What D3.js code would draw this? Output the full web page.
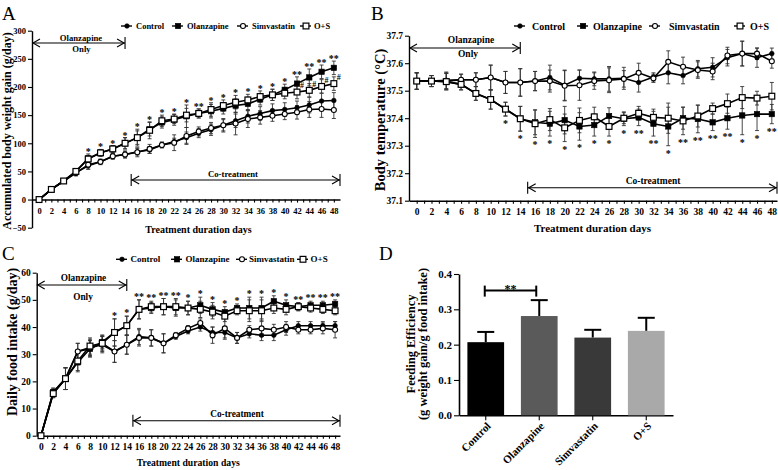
<!DOCTYPE html>
<html><head><meta charset="utf-8">
<script src="https://cdn.jsdelivr.net/npm/d3@7"></script>
<style>
html,body{margin:0;padding:0;background:#fff;}
svg{display:block;}
text{font-family:'Liberation Serif','Times New Roman',serif;font-weight:bold;fill:#000;}
</style></head><body>
<script>
// ---------------- DATA ----------------
const days = [0,2,4,6,8,10,12,14,16,18,20,22,24,26,28,30,32,34,36,38,40,42,44,46,48];
const seriesNames = ["Control","Olanzapine","Simvastatin","O+S"];

// Panel A: accumulated body weight gain
const weightControl     = [0,18,33,48,60,67,77,80,85,88,97,103,110,118,124,132,140,148,153,158,160,163,168,175,176];
const weightOlanzapine  = [0,18,33,50,73,83,90,100,110,125,137,142,148,153,157,162,167,170,178,186,195,206,217,227,234];
const weightSimvastatin = [0,18,33,47,62,67,77,80,84,90,97,101,113,121,127,132,135,143,146,149,152,155,160,161,159];
const weightOS          = [0,18,33,50,72,83,90,100,110,123,140,143,150,153,160,167,173,177,183,186,189,191,194,201,206];
const weightControlErr     = [0,2,3,5,6,4,5,6,6,6,5,6,10,8,10,12,12,12,12,12,12,12,14,14,14];
const weightOlanzapineErr  = [0,2,3,5,8,6,6,10,12,12,10,10,20,8,12,10,12,12,10,10,10,12,15,12,12];
const weightSimvastatinErr = [0,2,3,5,8,5,5,6,8,8,5,14,15,8,10,10,20,15,12,10,10,12,14,15,15];
const weightOSErr          = [0,2,3,5,6,6,6,10,15,15,10,8,12,8,12,10,12,10,10,10,10,12,12,12,12];
const weightStars = ["","","","","*","*","*","*","*","*","*","*","*","**","*","*","*","*","*","*","*","**","**","**","**"];
const weightHash  = ["","","","","","","","","","","","","","","","","","","","","","#","#","#","#"];

// Panel B: body temperature
const tempControl     = [37.535,37.535,37.538,37.54,37.54,37.548,37.53,37.53,37.535,37.548,37.52,37.545,37.543,37.543,37.545,37.53,37.55,37.565,37.555,37.58,37.585,37.62,37.635,37.62,37.635];
const tempOlanzapine  = [37.535,37.535,37.533,37.523,37.49,37.468,37.433,37.398,37.385,37.38,37.393,37.37,37.375,37.408,37.398,37.403,37.38,37.37,37.40,37.397,37.385,37.40,37.41,37.415,37.415];
const tempSimvastatin = [37.535,37.535,37.535,37.54,37.54,37.548,37.53,37.53,37.535,37.535,37.518,37.52,37.535,37.538,37.543,37.565,37.545,37.605,37.587,37.575,37.57,37.628,37.635,37.635,37.607];
const tempOS          = [37.535,37.535,37.533,37.523,37.49,37.468,37.433,37.398,37.38,37.395,37.365,37.392,37.405,37.37,37.40,37.418,37.403,37.40,37.39,37.408,37.435,37.453,37.475,37.473,37.48];
const tempControlErr     = [0.03,0.02,0.03,0.02,0.025,0.045,0.04,0.05,0.035,0.045,0.055,0.03,0.025,0.045,0.04,0.035,0.015,0.04,0.03,0.03,0.035,0.03,0.045,0.035,0.02];
const tempOlanzapineErr  = [0.03,0.02,0.03,0.02,0.025,0.035,0.025,0.045,0.045,0.045,0.05,0.05,0.04,0.03,0.025,0.03,0.045,0.07,0.04,0.05,0.03,0.04,0.07,0.06,0.035];
const tempSimvastatinErr = [0.03,0.02,0.03,0.02,0.025,0.045,0.04,0.05,0.035,0.04,0.055,0.055,0.03,0.045,0.03,0.035,0.015,0.04,0.035,0.03,0.03,0.03,0.045,0.02,0.025];
const tempOSErr          = [0.03,0.02,0.03,0.02,0.025,0.035,0.025,0.045,0.05,0.04,0.05,0.045,0.035,0.035,0.02,0.025,0.03,0.055,0.05,0.04,0.02,0.035,0.04,0.025,0.05];
const tempStars = ["","","","","","","*","*","*","*","*","*","*","*","*","**","**","*","**","**","**","**","*","*","**"];

// Panel C: daily food intake
const foodControl     = [0,16,21,31,32,34,31,33.5,36.5,36,34,36.5,38.5,40,38,38,36,37.5,37,37,39,40.5,40.5,40.5,40.5];
const foodOlanzapine  = [0,16,21,27,32,34.5,38,40.5,46.5,47,47.5,47,47,48,46.5,45.5,47,47,47,49.5,48,47.5,48,48,48.5];
const foodSimvastatin = [0,15.5,21,31,32.5,33.5,31,33.5,36,36,34,37,39.5,41.5,37,39.5,36,39,39.5,39,40,39,39,39.5,39];
const foodOS          = [0,15.5,21,27.5,33,34,38,40.5,46.5,47.5,47.5,47.5,47,46.5,45.5,44,46,46,46,47,46.5,47.5,47,46.5,46];
const foodControlErr     = [0,1.5,4,3,3,3,4,3.5,3,3,3.5,1,1,1.5,2,2,2,1.5,2,2,2,1.5,1.5,1.5,1.5];
const foodOlanzapineErr  = [0,1.5,4,3.5,3,2.5,5,3.5,3.5,2,3,3,2.5,3,2.5,2,1.5,4,4,2,2,1.5,1.5,1.5,1.5];
const foodSimvastatinErr = [0,1.5,4,3,3,3,4,3.5,3,3,3.5,1,1,1.5,3,4,2,1.5,3,2,2,1.5,1.5,2,3];
const foodOSErr          = [0,1.5,4,3.5,3,2.5,5,3.5,3.5,2,3,3,2.5,3,2.5,2,1.5,4,4,2,2,1.5,1.5,1.5,1.5];
const foodStars = ["","","","","","","*","*","**","**","**","**","*","*","*","*","*","*","*","*","*","**","**","**","**"];

// Panel D: feeding efficiency
const feCategories = ["Control","Olanzapine","Simvastatin","O+S"];
const feValues = [0.207,0.281,0.220,0.239];
const feErrors = [0.029,0.045,0.022,0.037];
const feBracketValue = 0.353;

// ---------------- STYLES ----------------
const markerStyle = {
  "Control":     {shape:"circle", filled:true},
  "Olanzapine":  {shape:"square", filled:true},
  "Simvastatin": {shape:"circle", filled:false},
  "O+S":         {shape:"square", filled:false}
};
const barColors = ["#000000","#5a5a5a","#393939","#a9a9a9"];

const svg = d3.select("body").append("svg").attr("width",778).attr("height",470);

function txt(g, x, y, s, size, anchor, weight, transform) {
  const t = g.append("text").attr("x",x).attr("y",y).attr("font-size",size)
    .attr("text-anchor",anchor||"middle").text(s);
  if (weight) t.style("font-weight",weight);
  if (transform) t.attr("transform",transform).attr("x",0).attr("y",0);
  return t;
}

function drawMarker(g, name, cx, cy) {
  const s = markerStyle[name];
  if (s.shape === "circle") {
    g.append("circle").attr("cx",cx).attr("cy",cy).attr("r", s.filled?2.3:2.5)
      .attr("fill", s.filled?"#000":"#fff").attr("stroke","#000").attr("stroke-width", s.filled?0.6:1.1);
  } else {
    const h = s.filled?2.7:2.9;
    g.append("rect").attr("x",cx-h).attr("y",cy-h).attr("width",2*h).attr("height",2*h)
      .attr("fill", s.filled?"#000":"#fff").attr("stroke","#000").attr("stroke-width", s.filled?0.6:1.2);
  }
}

function arrow(g, x1, x2, y, barL, barR) {
  const p = g.append("g").attr("stroke","#000").attr("fill","none").attr("stroke-width",1.1);
  p.append("line").attr("x1",x1).attr("x2",x2).attr("y1",y).attr("y2",y);
  p.append("path").attr("d",`M${x1+8},${y-4}L${x1+1},${y}L${x1+8},${y+4}`);
  p.append("path").attr("d",`M${x2-8},${y-4}L${x2-1},${y}L${x2-8},${y+4}`);
  if (barL) p.append("line").attr("x1",x1).attr("x2",x1).attr("y1",y-6).attr("y2",y+6);
  if (barR) p.append("line").attr("x1",x2).attr("x2",x2).attr("y1",y-6).attr("y2",y+6);
}

function styleAxis(a, fontSize) {
  a.attr("font-size",fontSize).attr("font-family",null);
  a.select(".domain").attr("stroke","#000").attr("stroke-width",1.4);
  a.selectAll(".tick line").attr("stroke","#000").attr("stroke-width",1.1);
  a.selectAll(".tick text").attr("fill","#000");
}

function linePanel(c) {
  const g = svg.append("g");
  const x = d3.scaleLinear().domain(c.xDomain).range(c.xRange);
  const y = d3.scaleLinear().domain(c.yDomain).range(c.yRange);
  const allDays = d3.range(0, 49);
  const xa = g.append("g").attr("transform",`translate(0,${y(c.xAxisAt)})`)
    .call(d3.axisBottom(x).tickValues(allDays).tickSize(3).tickSizeOuter(0).tickPadding(c.xPad)
      .tickFormat(d => d % 2 === 0 ? d : ""));
  styleAxis(xa, c.tickFont);
  const ya = g.append("g").attr("transform",`translate(${c.xRange[0]},0)`)
    .call(d3.axisLeft(y).tickValues(c.yTicks).tickSize(4).tickSizeOuter(0).tickPadding(2)
      .tickFormat(c.yFormat));
  styleAxis(ya, c.tickFont);

  const series = seriesNames.map((n,i) => ({name:n, vals:c.values[i], errs:c.errors[i]}));
  // error bars
  const eg = g.append("g").attr("stroke","#333").attr("stroke-width",0.9);
  series.forEach(s => {
    days.forEach((d,i) => {
      const e = s.errs[i]; if (!e) return;
      const xx = x(d), y1 = y(s.vals[i]-e), y2 = y(s.vals[i]+e);
      eg.append("line").attr("x1",xx).attr("x2",xx).attr("y1",y1).attr("y2",y2);
      eg.append("line").attr("x1",xx-2).attr("x2",xx+2).attr("y1",y1).attr("y2",y1);
      eg.append("line").attr("x1",xx-2).attr("x2",xx+2).attr("y1",y2).attr("y2",y2);
    });
  });
  // lines
  const line = d3.line().x(d => x(d[0])).y(d => y(d[1]));
  series.forEach(s => {
    g.append("path").attr("d", line(days.map((d,i)=>[d,s.vals[i]])))
      .attr("fill","none").attr("stroke","#000").attr("stroke-width",1.6);
  });
  // markers
  const mg = g.append("g");
  series.forEach(s => days.forEach((d,i) => drawMarker(mg, s.name, x(d), y(s.vals[i]))));
  // significance stars
  const iO = 1, iOS = 3;
  days.forEach((d,i) => {
    const st = c.stars[i]; if (!st) return;
    if (c.starDir === "up") {
      const top = Math.max(c.values[iO][i]+c.errors[iO][i], c.values[iOS][i]+c.errors[iOS][i]);
      txt(g, x(d), y(top) + c.starOffset, st, 10);
    } else {
      const bot = Math.min(c.values[iO][i]-c.errors[iO][i], c.values[iOS][i]-c.errors[iOS][i]);
      txt(g, x(d), y(bot) + c.starOffset, st, 10);
    }
  });
  if (c.hash) {
    days.forEach((d,i) => {
      if (!c.hash[i]) return;
      txt(g, x(d)+5, y(c.values[iOS][i]+c.errors[iOS][i]) + 3, c.hash[i], 8);
    });
  }
  // legend
  c.legend.forEach((L,i) => {
    const lg = g.append("g");
    lg.append("line").attr("x1",L[0]-6).attr("x2",L[0]+5).attr("y1",c.legendY).attr("y2",c.legendY)
      .attr("stroke","#000").attr("stroke-width",1.4);
    drawMarker(lg, seriesNames[i], L[0], c.legendY);
    txt(lg, L[1], c.legendY, seriesNames[i], c.legendFont, "start").attr("dy","0.35em");
  });
  // arrows
  arrow(g, c.xRange[0], x(14), c.onlyArrowY, false, true);
  arrow(g, x(15), c.xRange[1], c.coArrowY, true, true);
  txt(g, c.olaText[0], c.olaText[1], "Olanzapine", c.annFont);
  txt(g, c.onlyText[0], c.onlyText[1], "Only", c.annFont);
  txt(g, c.coText[0], c.coText[1], "Co-treatment", c.annFont);
  // titles
  txt(g, c.xTitle[0], c.xTitle[1], "Treatment duration days", c.xTitleFont);
  txt(g, 0, 0, c.yLabel, c.yLabelFont, "middle", null,
      `translate(${c.yLabelPos[0]},${c.yLabelPos[1]}) rotate(-90)`);
  txt(g, c.letter[0], c.letter[1], c.letter[2], 19, "start", "normal");
}

// Panel A
linePanel({
  xDomain:[-1.15,49], xRange:[32,340], yDomain:[-50,300], yRange:[227.7,30.7], xAxisAt:0,
  yTicks:[-50,0,50,100,150,200,250,300], yFormat:d3.format("d"), tickFont:8.5, xPad:5,
  values:[weightControl,weightOlanzapine,weightSimvastatin,weightOS],
  errors:[weightControlErr,weightOlanzapineErr,weightSimvastatinErr,weightOSErr],
  stars:weightStars, hash:weightHash, starDir:"up", starOffset:1,
  legend:[[127,136],[178,187],[243,252],[306,314]], legendY:26, legendFont:8.5,
  onlyArrowY:43, coArrowY:180, olaText:[81,40.5], onlyText:[81.5,51.5], coText:[233,176.5], annFont:8.7,
  xTitle:[198.5,232.5], xTitleFont:10,
  yLabel:"Accumulated body weight gain (g/day)", yLabelFont:12, yLabelPos:[10.5,131],
  letter:[2,19.5,"A"]
});

// Panel B
linePanel({
  xDomain:[-1.04,48.7], xRange:[409,777], yDomain:[37.1,37.7], yRange:[200.7,35.7], xAxisAt:37.1,
  yTicks:[37.1,37.2,37.3,37.4,37.5,37.6,37.7], yFormat:d3.format(".1f"), tickFont:9.5, xPad:5,
  values:[tempControl,tempOlanzapine,tempSimvastatin,tempOS],
  errors:[tempControlErr,tempOlanzapineErr,tempSimvastatinErr,tempOSErr],
  stars:tempStars, hash:null, starDir:"down", starOffset:11,
  legend:[[520,532],[583,593],[655,669],[740,750]], legendY:26, legendFont:10,
  onlyArrowY:48, coArrowY:187.7, olaText:[471,42.5], onlyText:[468,57], coText:[653,183.5], annFont:9.5,
  xTitle:[592.5,232], xTitleFont:11,
  yLabel:"Body temperature (\u00B0C)", yLabelFont:14.5, yLabelPos:[384.5,120],
  letter:[371,19.5,"B"]
});

// Panel C
linePanel({
  xDomain:[-0.7,48.8], xRange:[36.7,340], yDomain:[0,60], yRange:[435.7,272.7], xAxisAt:0,
  yTicks:[0,10,20,30,40,50,60], yFormat:d3.format("d"), tickFont:9.5, xPad:5,
  values:[foodControl,foodOlanzapine,foodSimvastatin,foodOS],
  errors:[foodControlErr,foodOlanzapineErr,foodSimvastatinErr,foodOSErr],
  stars:foodStars, hash:null, starDir:"up", starOffset:0,
  legend:[[122,130.5],[177,185.5],[242,249],[303,310.5]], legendY:259.3, legendFont:9,
  onlyArrowY:285, coArrowY:420.7, olaText:[83.5,281], onlyText:[83,299.5], coText:[237,416.5], annFont:9.3,
  xTitle:[188.3,466], xTitleFont:9.7,
  yLabel:"Daily food intake (g/day)", yLabelFont:14, yLabelPos:[16.5,342],
  letter:[2,260,"C"]
});

// Panel D
(function(){
  const g = svg.append("g");
  const x = d3.scaleBand().domain(feCategories).range([459,673]).paddingInner(0.314).paddingOuter(0.157);
  const y = d3.scaleLinear().domain([0,0.4]).range([415.3,274]);
  const ya = g.append("g").attr("transform","translate(459,0)")
    .call(d3.axisLeft(y).tickValues([0,0.1,0.2,0.3,0.4]).tickSize(5).tickSizeOuter(0).tickPadding(2).tickFormat(d3.format(".1f")));
  styleAxis(ya, 11);
  ya.select(".domain").attr("stroke-width",1.6);
  const xa = g.append("g").attr("transform",`translate(0,${y(0)})`)
    .call(d3.axisBottom(x).tickSize(5).tickSizeOuter(0).tickFormat(""));
  styleAxis(xa, 11);
  xa.select(".domain").attr("stroke-width",1.6);
  // error bars (upper only)
  feCategories.forEach((c,i) => {
    const cx = x(c) + x.bandwidth()/2;
    g.append("line").attr("x1",cx).attr("x2",cx).attr("y1",y(feValues[i])).attr("y2",y(feValues[i]+feErrors[i]))
      .attr("stroke","#000").attr("stroke-width",2);
    g.append("line").attr("x1",cx-8.5).attr("x2",cx+8.5).attr("y1",y(feValues[i]+feErrors[i])).attr("y2",y(feValues[i]+feErrors[i]))
      .attr("stroke","#000").attr("stroke-width",2);
  });
  g.selectAll("rect.bar").data(feCategories).enter().append("rect").attr("class","bar")
    .attr("x", d => x(d)).attr("width", x.bandwidth())
    .attr("y", (d,i) => y(feValues[i])).attr("height", (d,i) => y(0) - y(feValues[i]))
    .attr("fill", (d,i) => barColors[i]);
  // x labels rotated
  feCategories.forEach((c,i) => {
    const cx = x(c) + x.bandwidth()/2;
    txt(g, 0, 0, c, 11, "end", null, `translate(${cx+3},${424}) rotate(-45)`).attr("dy","0.35em");
  });
  // significance bracket
  const bx1 = x("Control") + x.bandwidth()/2 - 1, bx2 = x("Olanzapine") + x.bandwidth()/2 - 3;
  const by = y(feBracketValue);
  const bg = g.append("g").attr("stroke","#000").attr("stroke-width",2);
  bg.append("line").attr("x1",bx1).attr("x2",bx2).attr("y1",by).attr("y2",by);
  bg.append("line").attr("x1",bx1).attr("x2",bx1).attr("y1",by-5).attr("y2",by+6);
  bg.append("line").attr("x1",bx2).attr("x2",bx2).attr("y1",by-5).attr("y2",by+6);
  txt(g, (bx1+bx2)/2, by + 2, "**", 12);
  // y label
  txt(g, 0, 0, "Feeding Efficiency", 12.5, "middle", null, "translate(414.5,344) rotate(-90)");
  txt(g, 0, 0, "(g weight gain/g food intake)", 12.5, "middle", null, "translate(427,344) rotate(-90)");
  txt(g, 379, 260, "D", 19, "start", "normal");
})();
</script></body></html>
